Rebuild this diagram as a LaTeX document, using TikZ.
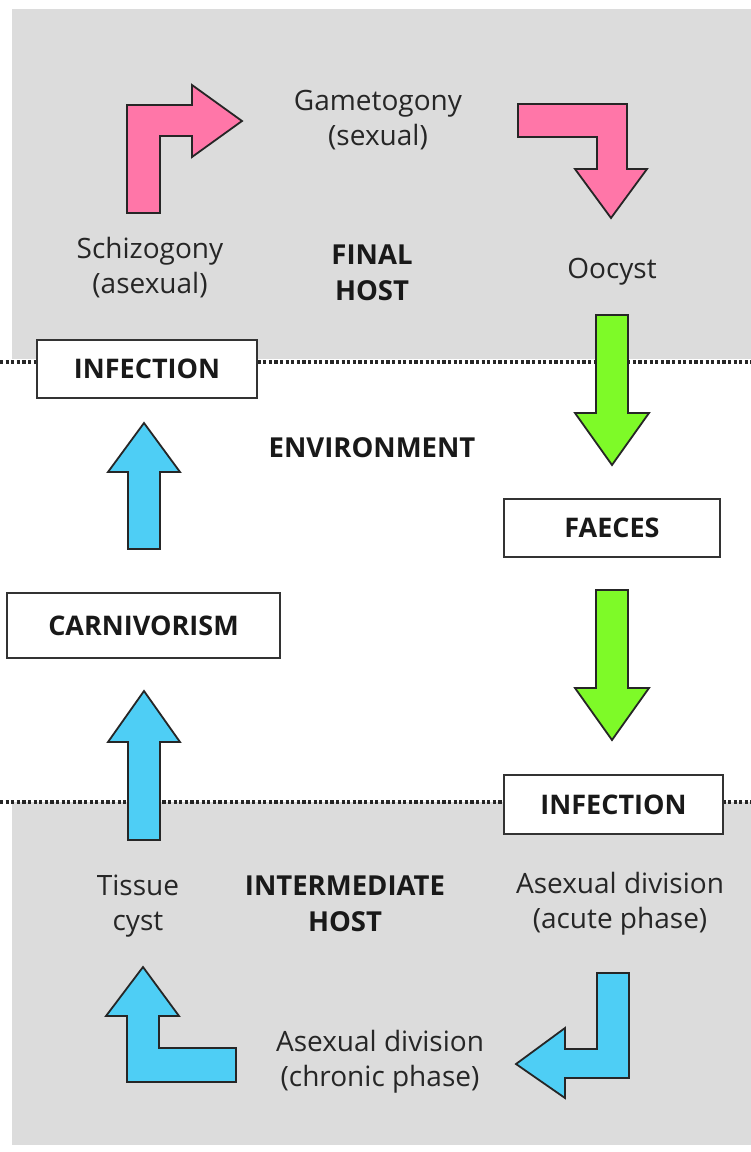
\documentclass[tikz,border=0pt]{standalone}
\usepackage{fontspec}
\setmainfont{Open Sans}
\begin{document}
\begin{tikzpicture}[x=1pt,y=-1pt,
  region/.style={fill=regiongray,draw=none},
  divider/.style={line width=3.6pt,dash pattern=on 3.2pt off 2.4pt,draw=black!85},
  boxlabel/.style={draw=black!80,line width=2pt,fill=white,font=\fontsize{27}{32}\selectfont\bfseries,inner sep=0pt,text=black!90},
  plain/.style={align=center,font=\fontsize{28}{35}\selectfont,text=black!85},
  bold/.style={align=center,font=\fontsize{27.5}{36}\selectfont\bfseries,text=black!90},
  blockarrow/.style={draw=black!85,line width=1.8pt,line join=miter}
]
\definecolor{regiongray}{RGB}{220,220,220}
\definecolor{pinkarrow}{RGB}{255,118,168}
\definecolor{greenarrow}{RGB}{126,250,40}
\definecolor{bluearrow}{RGB}{78,206,245}
\useasboundingbox (0,0) rectangle (751,1152);
\fill[white] (0,0) rectangle (751,1152);
% host regions
\fill[region] (12,9) rectangle (751,359);
\fill[region] (12,802) rectangle (751,1145);
% dividers
\draw[divider] (0,362) -- (751,362);
\draw[divider] (0,802) -- (751,802);
% boxes
\node[boxlabel,minimum width=220pt,minimum height=58pt] (inf1) at (147,369) {INFECTION};
\node[boxlabel,minimum width=216pt,minimum height=58pt] (faeces) at (612,528) {FAECES};
\node[boxlabel,minimum width=273pt,minimum height=65pt] (carn) at (143.5,625.5) {CARNIVORISM};
\node[boxlabel,minimum width=219pt,minimum height=59pt] (inf2) at (613.5,804.5) {INFECTION};
% texts
\node[plain] (gam) at (378,120) {Gametogony\\(sexual)};
\node[plain] (schiz) at (150,268) {Schizogony\\(asexual)};
\node[bold] (final) at (372,273) {FINAL\\HOST};
\node[plain] (oocyst) at (612,272) {Oocyst};
\node[bold] (env) at (372,448) {ENVIRONMENT};
\node[plain] (tissue) at (138,906) {Tissue\\cyst};
\node[bold] (inter) at (345,904) {INTERMEDIATE\\HOST};
\node[plain] (acute) at (620,904) {Asexual division\\(acute phase)};
\node[plain] (chronic) at (380,1062) {Asexual division\\(chronic phase)};
% pink arrows (final host)
\draw[blockarrow,fill=pinkarrow] (127,213) -- (127,105) -- (192,105) -- (192,85) -- (242,121) -- (192,157) -- (192,136) -- (160,136) -- (160,213) -- cycle;
\draw[blockarrow,fill=pinkarrow] (518,104) -- (627,104) -- (627,169) -- (647,169) -- (611,218) -- (575,169) -- (597,169) -- (597,137) -- (518,137) -- cycle;
% green arrows
\draw[blockarrow,fill=greenarrow] (596,315) -- (628,315) -- (628,413) -- (649,413) -- (612,465) -- (575,413) -- (596,413) -- cycle;
\draw[blockarrow,fill=greenarrow] (596,590) -- (628,590) -- (628,688) -- (649,688) -- (612,740) -- (575,688) -- (596,688) -- cycle;
% blue arrows
\draw[blockarrow,fill=bluearrow] (128,549) -- (160,549) -- (160,472) -- (180,472) -- (144,423) -- (108,472) -- (128,472) -- cycle;
\draw[blockarrow,fill=bluearrow] (128,840) -- (160,840) -- (160,742) -- (180,742) -- (144,691) -- (108,742) -- (128,742) -- cycle;
\draw[blockarrow,fill=bluearrow] (127,1082) -- (127,1016) -- (106,1016) -- (143,967) -- (179,1016) -- (159,1016) -- (159,1048) -- (236,1048) -- (236,1082) -- cycle;
\draw[blockarrow,fill=bluearrow] (597,973) -- (629,973) -- (629,1078) -- (565,1078) -- (565,1098) -- (516,1064) -- (565,1028) -- (565,1049) -- (597,1049) -- cycle;
\end{tikzpicture}
\end{document}
